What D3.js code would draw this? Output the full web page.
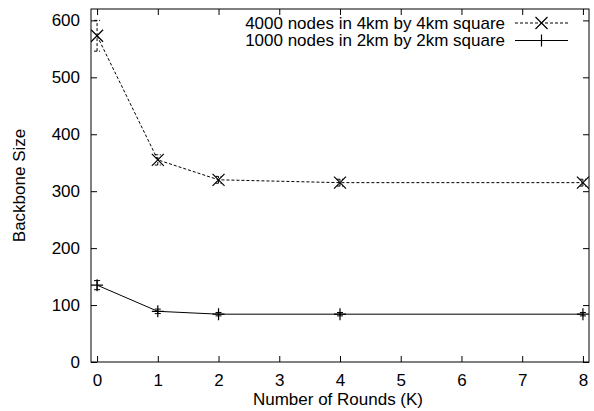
<!DOCTYPE html>
<html>
<head>
<meta charset="utf-8">
<script src="https://cdn.jsdelivr.net/npm/d3@7"></script>
<style>
  body { margin: 0; background: #fff; }
  text { font-family: "Liberation Sans", Arial, sans-serif; fill: #000; }
</style>
</head>
<body>
<div id="chart"></div>
<script>
// data
const rounds = [0, 1, 2, 4, 8];
const big = [573, 355, 320, 315, 315];        // 4000 nodes, 4km square
const bigErr = [27, 9, 6, 6, 6];
const small = [135, 89, 84, 84, 84];           // 1000 nodes, 2km square
const smallErr = [8, 4, 3, 3, 3];
const xTicks = [0, 1, 2, 3, 4, 5, 6, 7, 8];
const yTicks = [0, 100, 200, 300, 400, 500, 600];
const seriesNames = ["4000 nodes in 4km by 4km square", "1000 nodes in 2km by 2km square"];

const totalWidth = 594, totalHeight = 411;
const margin = { top: 9, right: 5, bottom: 49, left: 91 };
const width = totalWidth - margin.left - margin.right;
const height = totalHeight - margin.top - margin.bottom;
const fontSize = "17px";

const svg = d3.select("#chart").append("svg")
  .attr("width", totalWidth)
  .attr("height", totalHeight);

const g = svg.append("g")
  .attr("transform", `translate(${margin.left},${margin.top})`);

const x = d3.scaleLinear().domain([-0.1, 8.1]).range([0, width]);
const y = d3.scaleLinear().domain([0, 620]).range([height, 0]);

const tickLen = 6;

// axes, gnuplot style ticks inside on all four sides
const xAxis = d3.axisBottom(x).tickValues(xTicks).tickSize(-tickLen).tickPadding(12).tickFormat(d3.format("d"));
const yAxis = d3.axisLeft(y).tickValues(yTicks).tickSize(-tickLen).tickPadding(11);

g.append("g")
  .attr("transform", `translate(0,${height})`)
  .call(xAxis)
  .call(a => a.select(".domain").remove())
  .call(a => a.selectAll("text").style("font-size", fontSize).attr("font-family", null));

g.append("g")
  .call(yAxis)
  .call(a => a.select(".domain").remove())
  .call(a => a.selectAll("text").style("font-size", fontSize).attr("font-family", null));

g.append("g")
  .call(d3.axisTop(x).tickValues(xTicks).tickSize(-tickLen).tickFormat(""))
  .call(a => a.select(".domain").remove());

g.append("g")
  .attr("transform", `translate(${width},0)`)
  .call(d3.axisRight(y).tickValues(yTicks).tickSize(-tickLen).tickFormat(""))
  .call(a => a.select(".domain").remove());

g.selectAll(".tick line").attr("stroke", "#000");

// frame
g.append("rect")
  .attr("width", width)
  .attr("height", height)
  .attr("fill", "none")
  .attr("stroke", "#000")
  .attr("stroke-width", 1);

// axis labels
svg.append("text")
  .attr("transform", `translate(338,405)`)
  .style("text-anchor", "middle")
  .style("font-size", fontSize)
  .text("Number of Rounds (K)");

svg.append("text")
  .attr("transform", `translate(25,${margin.top + height / 2}) rotate(-90)`)
  .style("text-anchor", "middle")
  .style("font-size", fontSize)
  .text("Backbone Size");

const line = d3.line()
  .x(d => x(d[0]))
  .y(d => y(d[1]));

function drawSeries(vals, errs, dash, marker) {
  const pts = rounds.map((r, i) => [r, vals[i], errs[i]]);
  g.append("path")
    .datum(pts)
    .attr("fill", "none")
    .attr("stroke", "#000")
    .attr("stroke-width", 1)
    .attr("stroke-dasharray", dash)
    .attr("d", line);

  // error bars
  const eb = g.append("g").attr("stroke", "#000").attr("stroke-width", 1).attr("stroke-dasharray", dash);
  pts.forEach(p => {
    const cx = x(p[0]);
    eb.append("line").attr("x1", cx).attr("x2", cx).attr("y1", y(p[1] - p[2])).attr("y2", y(p[1] + p[2]));
    eb.append("line").attr("x1", cx - 3).attr("x2", cx + 3).attr("y1", y(p[1] - p[2])).attr("y2", y(p[1] - p[2])).attr("stroke-dasharray", null);
    eb.append("line").attr("x1", cx - 3).attr("x2", cx + 3).attr("y1", y(p[1] + p[2])).attr("y2", y(p[1] + p[2])).attr("stroke-dasharray", null);
  });

  g.selectAll(null)
    .data(pts)
    .enter().append("path")
    .attr("transform", d => `translate(${x(d[0])},${y(d[1])})`)
    .attr("d", marker)
    .attr("fill", "none")
    .attr("stroke", "#000")
    .attr("stroke-width", 1.2);
}

const crossMark = "M-6,-6L6,6M-6,6L6,-6";
const plusMark = "M-6,0L6,0M0,-6L0,6";

drawSeries(big, bigErr, "3,2", crossMark);
drawSeries(small, smallErr, null, plusMark);

// legend
const legend = svg.append("g");
seriesNames.forEach((name, i) => {
  const ly = 23 + i * 17.5;
  legend.append("text")
    .attr("x", 505)
    .attr("y", ly)
    .attr("dy", "0.35em")
    .style("text-anchor", "end")
    .style("font-size", fontSize)
    .text(name);
  legend.append("line")
    .attr("x1", 515).attr("x2", 568)
    .attr("y1", ly).attr("y2", ly)
    .attr("stroke", "#000")
    .attr("stroke-dasharray", i === 0 ? "3,2" : null);
  legend.append("path")
    .attr("transform", `translate(541.5,${ly})`)
    .attr("d", i === 0 ? crossMark : plusMark)
    .attr("fill", "none")
    .attr("stroke", "#000")
    .attr("stroke-width", 1.2);
});
</script>
</body>
</html>
